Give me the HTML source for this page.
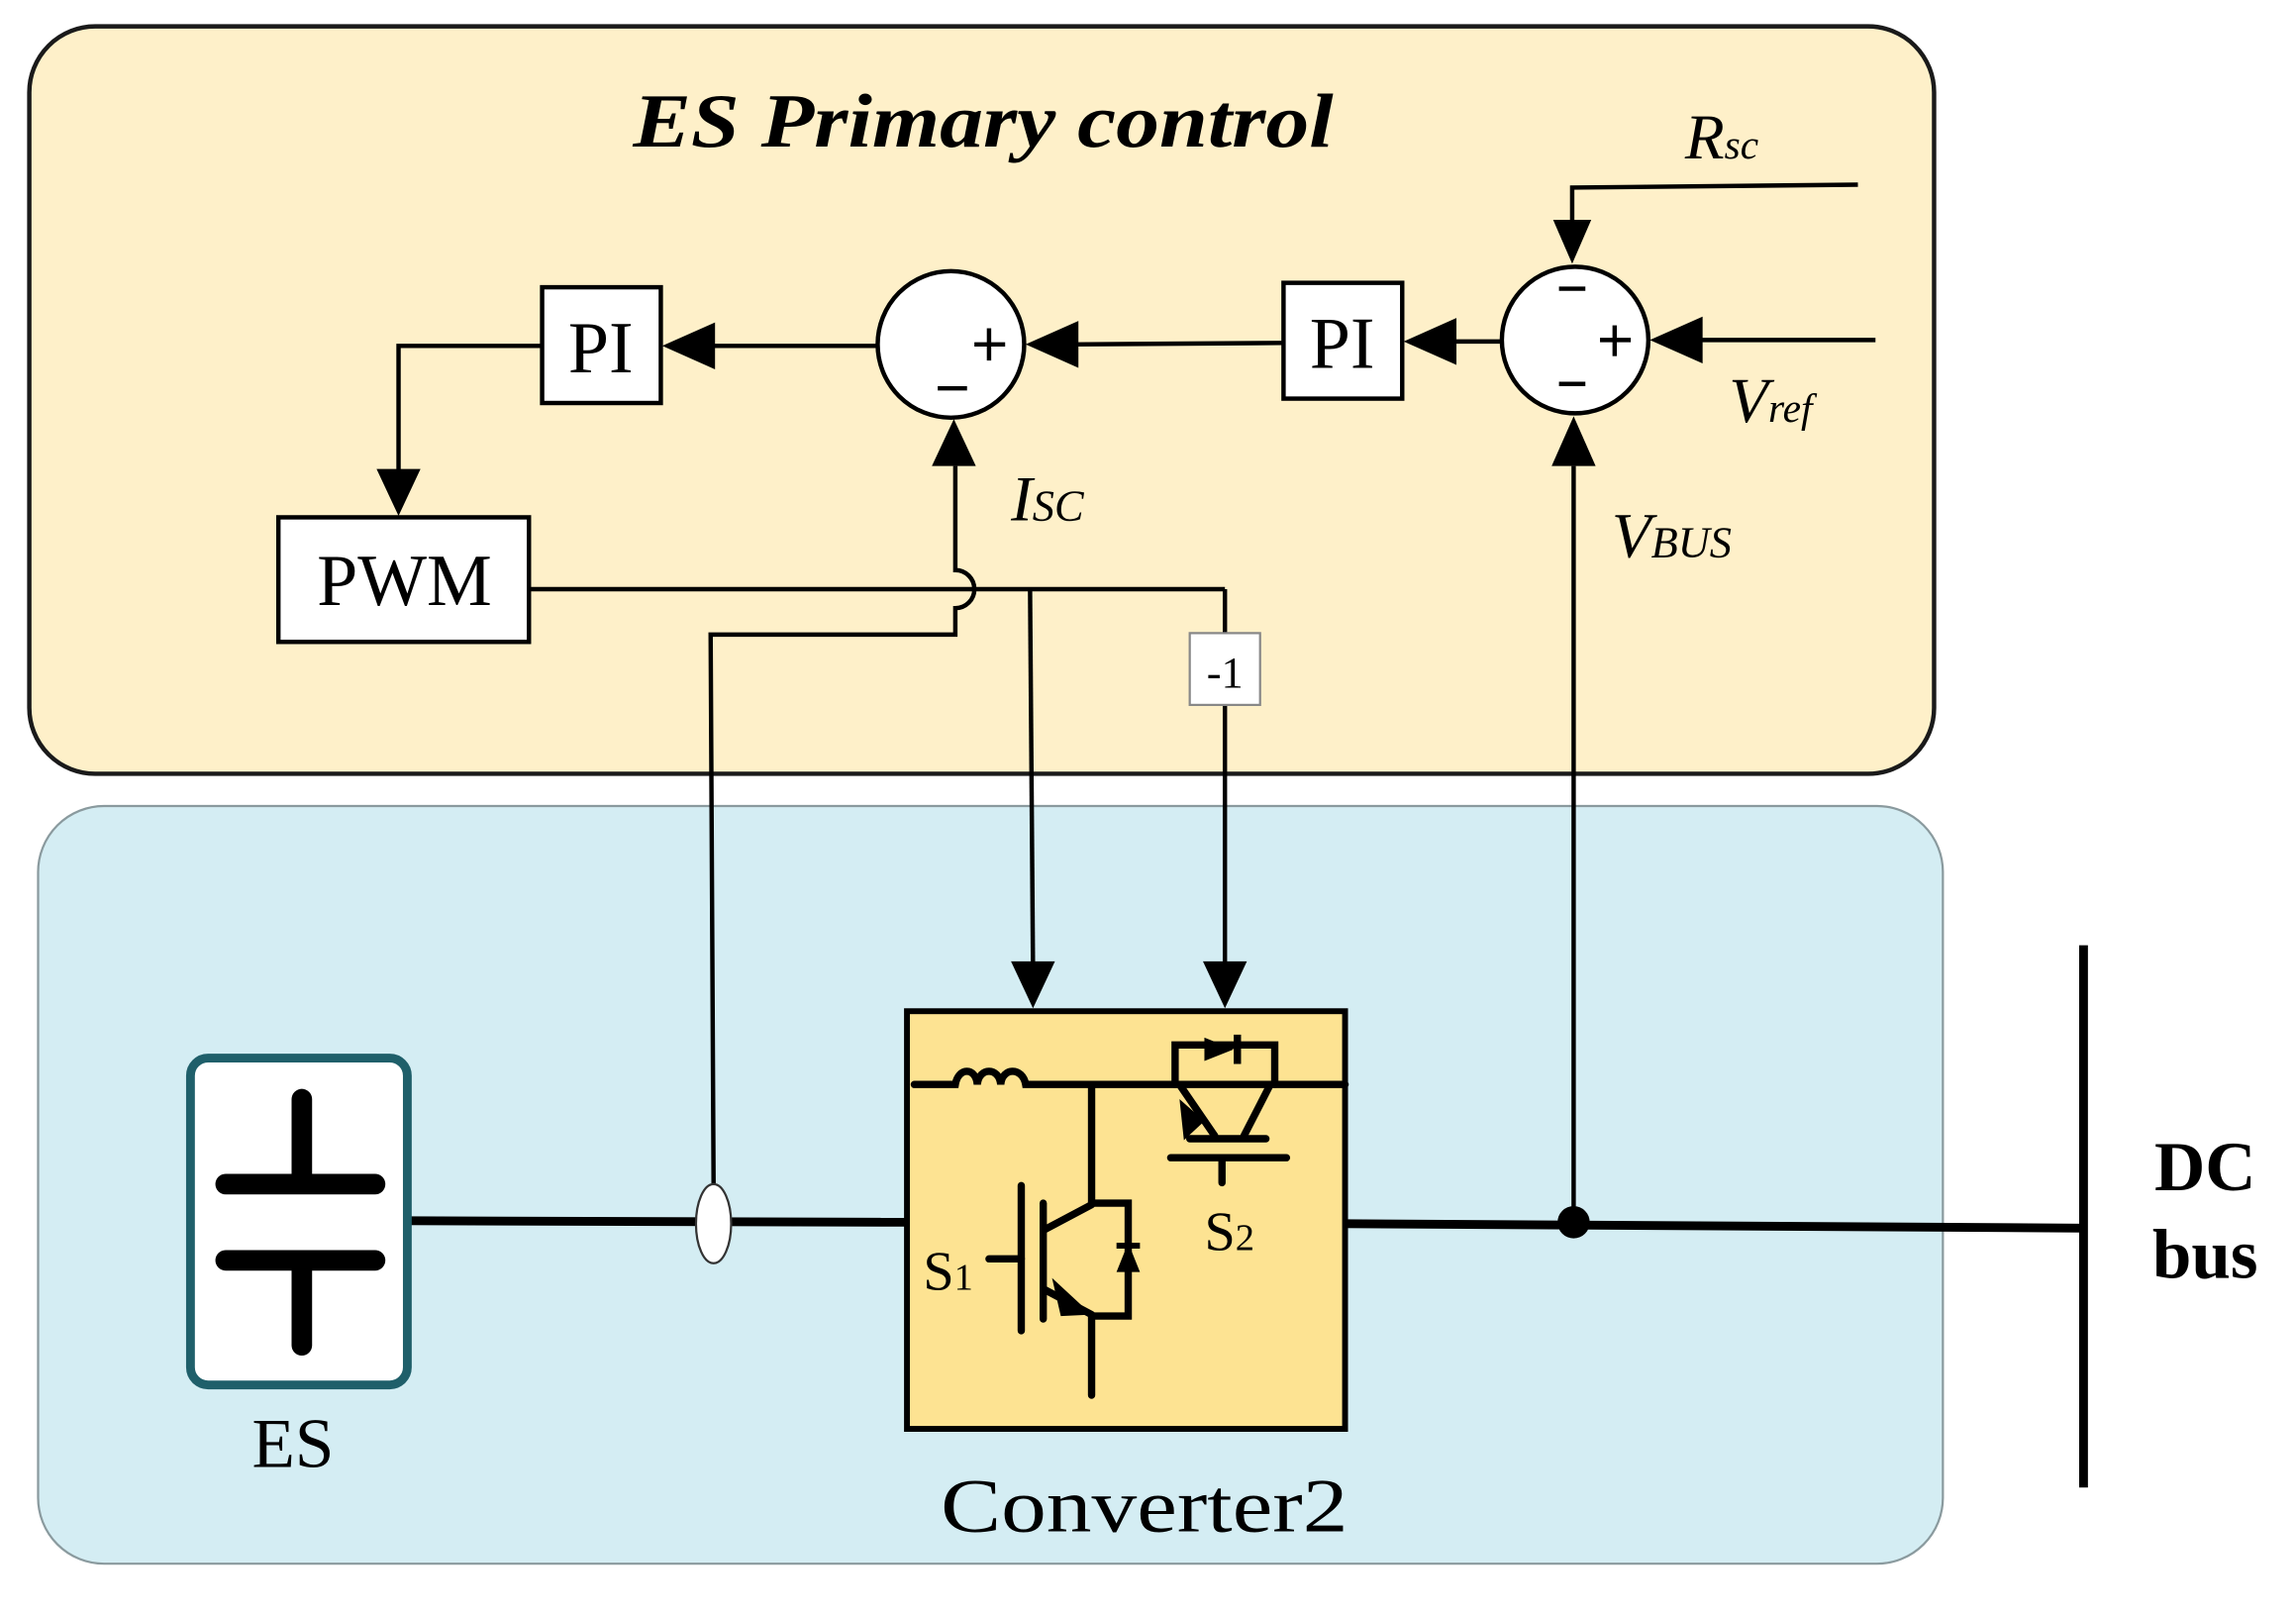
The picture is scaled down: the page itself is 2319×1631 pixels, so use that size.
<!DOCTYPE html>
<html><head><style>html,body{margin:0;padding:0;background:#fff}svg{display:block}</style></head>
<body>
<svg width="2319" height="1631" viewBox="0 0 1567 1102" preserveAspectRatio="none" xmlns="http://www.w3.org/2000/svg" font-family="Liberation Serif, serif">
<rect x="20" y="18" width="1300" height="510" rx="45" fill="#fef0c9" stroke="#1a1a1a" stroke-width="3"/>
<rect x="26" y="550" width="1300" height="517" rx="45" fill="#d4edf3" stroke="#8a9a9e" stroke-width="1.5"/>
<text x="432" y="100" font-size="52" font-weight="bold" font-style="italic" textLength="478" lengthAdjust="spacingAndGlyphs">ES Primary control</text>

<g stroke="#000" fill="none" stroke-width="3">
<polyline points="1268,126 1073,128 1073,160"/>
<line x1="1280" y1="232" x2="1150" y2="232"/>
<line x1="1025" y1="233" x2="990" y2="233"/>
<line x1="876" y1="234" x2="732" y2="235"/>
<line x1="599" y1="236" x2="484" y2="236"/>
<polyline points="370,236 272,236 272,322"/>
<line x1="361" y1="402" x2="836" y2="402"/>
<line x1="703" y1="402" x2="705" y2="660"/>
<line x1="836" y1="402" x2="836" y2="432"/>
<line x1="836" y1="481" x2="836" y2="660"/>
<path d="M487,808 L485,433 L652,433 L652,415 A13,13 0 0 0 652,389 L652,318"/>
<line x1="1074" y1="833" x2="1074" y2="318"/>
</g>
<g fill="#000">
<polygon points="1073,180 1060,150 1086,150"/>
<polygon points="1126,232 1162,216 1162,248"/>
<polygon points="958,233 994,217 994,249"/>
<polygon points="700,235 736,219 736,251"/>
<polygon points="452,236 488,220 488,252"/>
<polygon points="272,352 257,320 287,320"/>
<polygon points="651,286 636,318 666,318"/>
<polygon points="1074,284 1059,318 1089,318"/>
<polygon points="705,688 690,656 720,656"/>
<polygon points="836,688 821,656 851,656"/>
</g>
<ellipse cx="1075" cy="232" rx="50" ry="50" fill="#fff" stroke="#000" stroke-width="3"/>
<ellipse cx="649" cy="235" rx="50" ry="50" fill="#fff" stroke="#000" stroke-width="3"/>
<g stroke="#000" stroke-width="3">
<line x1="1064" y1="197" x2="1082" y2="197"/><line x1="1064" y1="262" x2="1082" y2="262"/>
<line x1="1092" y1="232" x2="1113" y2="232"/><line x1="1102" y1="222" x2="1102" y2="243"/>
<line x1="665" y1="235" x2="686" y2="235"/><line x1="675" y1="224" x2="675" y2="246"/>
<line x1="640" y1="265" x2="660" y2="265"/>
</g>
<rect x="876" y="193" width="81" height="79" fill="#fff" stroke="#000" stroke-width="3"/>
<rect x="370" y="196" width="81" height="79" fill="#fff" stroke="#000" stroke-width="3"/>
<rect x="190" y="353" width="171" height="85" fill="#fff" stroke="#000" stroke-width="3"/>
<rect x="812" y="432" width="48" height="49" fill="#fff" stroke="#888" stroke-width="1.5"/>
<text x="916" y="251" text-anchor="middle" font-size="50">PI</text>
<text x="410" y="254" text-anchor="middle" font-size="50">PI</text>
<text x="276" y="413" text-anchor="middle" font-size="50">PWM</text>
<text x="836" y="469" text-anchor="middle" font-size="30">-1</text>
<text x="1150" y="108" font-size="44" font-style="italic">R<tspan font-size="28">sc</tspan></text>
<text x="1180" y="288" font-size="44" font-style="italic">V<tspan font-size="28">ref</tspan></text>
<text x="690" y="355" font-size="44" font-style="italic">I<tspan font-size="30">SC</tspan></text>
<text x="1100" y="380" font-size="44" font-style="italic">V<tspan font-size="30">BUS</tspan></text>

<g stroke="#000" stroke-width="6" fill="none">
<line x1="278" y1="833" x2="619" y2="834"/>
<line x1="918" y1="835" x2="1422" y2="838"/>
<line x1="1422" y1="645" x2="1422" y2="1015"/>
</g>
<ellipse cx="487" cy="835" rx="12" ry="27" fill="#fff" stroke="#333" stroke-width="1.5"/>
<circle cx="1074" cy="834" r="11" fill="#000"/>
<text x="1505" y="812" text-anchor="middle" font-size="48" font-weight="bold">DC</text>
<text x="1505" y="872" text-anchor="middle" font-size="48" font-weight="bold">bus</text>

<rect x="130" y="722" width="148" height="223" rx="12" fill="#fff" stroke="#1f5f6a" stroke-width="6"/>
<g stroke="#000" stroke-linecap="round">
<line x1="206" y1="750" x2="206" y2="805" stroke-width="14"/>
<line x1="154" y1="808" x2="256" y2="808" stroke-width="14"/>
<line x1="154" y1="860" x2="256" y2="860" stroke-width="14"/>
<line x1="206" y1="862" x2="206" y2="918" stroke-width="14"/>
</g>
<text x="200" y="1001" text-anchor="middle" font-size="48">ES</text>

<rect x="619" y="690" width="299" height="285" fill="#fde392" stroke="#000" stroke-width="4"/>
<g stroke="#000" stroke-width="5" fill="none" stroke-linecap="round">
<path d="M624,740 L652,740 C654,728 666,728 667,740 C668,728 682,728 683,740 C684,728 698,728 700,740 L918,740"/>
<polyline points="745,740 745,821 770,821 770,898 745,898 745,952"/>
<line x1="713" y1="839" x2="745" y2="822"/>
<line x1="713" y1="880" x2="745" y2="897"/>
<line x1="697" y1="809" x2="697" y2="908"/>
<line x1="712" y1="821" x2="712" y2="900"/>
<line x1="675" y1="859" x2="697" y2="859"/>
<polyline points="802,740 802,713 870,713 870,740"/>
<line x1="805" y1="740" x2="829" y2="775"/>
<line x1="867" y1="740" x2="849" y2="775"/>
<line x1="812" y1="777" x2="864" y2="777"/>
<line x1="799" y1="790" x2="878" y2="790"/>
<line x1="834" y1="790" x2="834" y2="807"/>
</g>
<g fill="#000">
<polygon points="745,897 718,872 724,898"/>
<polygon points="805,750 822,765 808,778"/>
<polygon points="770,848 762,868 778,868"/>
<rect x="762" y="848" width="16" height="4"/>
<polygon points="822,708 842,716 822,724"/>
<rect x="842" y="706" width="5" height="20"/>
</g>
<text x="630" y="880" font-size="38">S<tspan font-size="26">1</tspan></text>
<text x="822" y="853" font-size="38">S<tspan font-size="26">2</tspan></text>
<text x="642" y="1045" font-size="52" textLength="278" lengthAdjust="spacingAndGlyphs">Converter2</text>
</svg>
</body></html>
